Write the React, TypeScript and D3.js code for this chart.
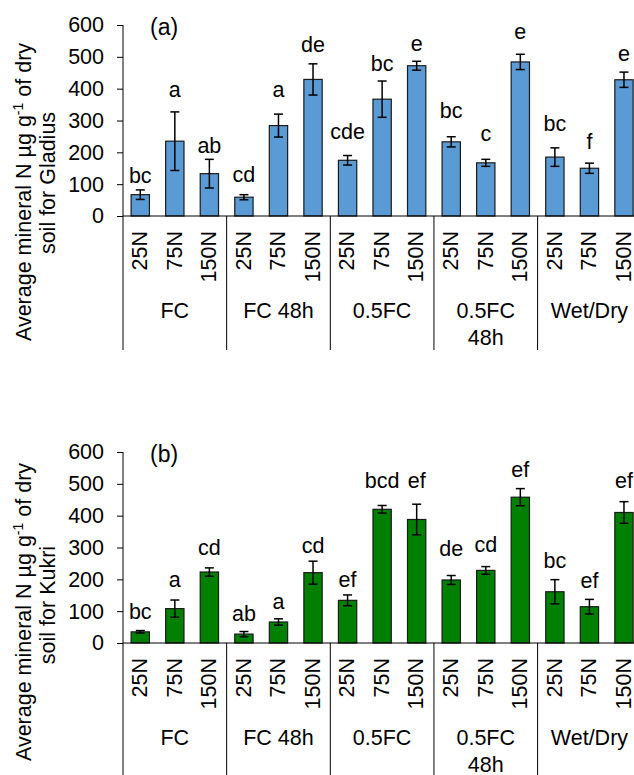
import React, { useEffect, useRef } from "react";
import * as d3 from "d3";

// ---------- data ----------
const rates = ["25N", "75N", "150N"];
const groupLabels = [["FC"], ["FC 48h"], ["0.5FC"], ["0.5FC", "48h"], ["Wet/Dry"]];
const yTicks = [0, 100, 200, 300, 400, 500, 600];

const gladiusMean = [67, 235, 133, 59, 284, 429, 175, 367, 472, 233, 167, 484, 185, 150, 428];
const gladiusErr = [15, 92, 45, 8, 36, 49, 15, 57, 14, 16, 11, 24, 29, 16, 24];
const gladiusLetters = ["bc", "a", "ab", "cd", "a", "de", "cde", "bc", "e", "bc", "c", "e", "bc", "f", "e"];
const gladiusLetterY = [104, 374, 199, 106, 374, 516, 241, 456, 518, 307, 237, 555, 268, 210, 487];

const kukriMean = [35, 108, 223, 28, 66, 221, 134, 420, 388, 198, 228, 458, 161, 114, 410];
const kukriErr = [4, 27, 13, 8, 10, 36, 17, 12, 48, 14, 12, 27, 38, 23, 34];
const kukriLetters = ["bc", "a", "cd", "ab", "a", "cd", "ef", "bcd", "ef", "de", "cd", "ef", "bc", "ef", "ef"];
const kukriLetterY = [75, 177, 277, 70, 107, 282, 177, 487, 487, 272, 286, 523, 237, 172, 487];

// ---------- layout ----------
const W = 634;
const H = 775;
const FONT = "'Liberation Sans', Arial, sans-serif";
const FS = 21.5;
const AXIS_X = 123;
const STEP = 34.55;

const panels = [
  { tag: "(a)", cultivar: "Gladius", y0: 216, mean: gladiusMean, err: gladiusErr, letters: gladiusLetters, letterY: gladiusLetterY, color: "#5B9BD5", titleY: [192, 183] },
  { tag: "(b)", cultivar: "Kukri", y0: 643, mean: kukriMean, err: kukriErr, letters: kukriLetters, letterY: kukriLetterY, color: "#008000", titleY: [612, 605] },
];

export default function App() {
  const ref = useRef<SVGSVGElement | null>(null);

  useEffect(() => {
    const svg = d3.select(ref.current);
    svg.selectAll("*").remove();

    const cats: string[] = [];
    groupLabels.forEach((_, g) => rates.forEach((r) => cats.push(`${g}-${r}`)));

    const x = d3
      .scaleBand<string>()
      .domain(cats)
      .range([AXIS_X, AXIS_X + STEP * cats.length])
      .paddingInner(0.47)
      .paddingOuter(0.235);

    panels.forEach((p) => {
      const y = d3.scaleLinear().domain([0, 600]).range([p.y0, p.y0 - 191]);
      const g = svg.append("g").attr("font-family", FONT);

      // bars
      g.selectAll("rect.bar")
        .data(p.mean)
        .join("rect")
        .attr("x", (_, i) => x(cats[i])!)
        .attr("width", x.bandwidth())
        .attr("y", (d) => y(d))
        .attr("height", (d) => p.y0 - y(d))
        .attr("fill", p.color)
        .attr("stroke", "#1a1a1a")
        .attr("stroke-width", 1.2);

      // error bars
      const eb = g.selectAll("g.eb").data(p.mean).join("g");
      eb.append("line")
        .attr("x1", (_, i) => x(cats[i])! + x.bandwidth() / 2)
        .attr("x2", (_, i) => x(cats[i])! + x.bandwidth() / 2)
        .attr("y1", (d, i) => y(d + p.err[i]))
        .attr("y2", (d, i) => y(d - p.err[i]))
        .attr("stroke", "#000")
        .attr("stroke-width", 1.5);
      [1, -1].forEach((s) => {
        eb.append("line")
          .attr("x1", (_, i) => x(cats[i])! + x.bandwidth() / 2 - 4.5)
          .attr("x2", (_, i) => x(cats[i])! + x.bandwidth() / 2 + 4.5)
          .attr("y1", (d, i) => y(d + s * p.err[i]))
          .attr("y2", (d, i) => y(d + s * p.err[i]))
          .attr("stroke", "#000")
          .attr("stroke-width", 1.5);
      });

      // letters
      g.selectAll("text.letter")
        .data(p.letters)
        .join("text")
        .attr("x", (_, i) => x(cats[i])! + x.bandwidth() / 2)
        .attr("y", (_, i) => y(p.letterY[i]))
        .attr("text-anchor", "middle")
        .attr("font-size", FS)
        .attr("fill", "#000")
        .text((d) => d);

      // y axis ticks
      const axis = d3.axisLeft(y).tickValues(yTicks).tickSize(6).tickPadding(13);
      const ag = g.append("g").attr("transform", `translate(${AXIS_X},0)`).call(axis);
      ag.select(".domain").remove();
      ag.selectAll(".tick line").attr("stroke", "#000").attr("stroke-width", 1);
      ag.selectAll(".tick text")
        .attr("font-family", FONT)
        .attr("font-size", FS)
        .attr("fill", "#000");

      // axis line (extends down through category area)
      g.append("line")
        .attr("x1", AXIS_X).attr("x2", AXIS_X)
        .attr("y1", y(600)).attr("y2", p.y0 + 134)
        .attr("stroke", "#000").attr("stroke-width", 1);
      // baseline
      g.append("line")
        .attr("x1", AXIS_X).attr("x2", AXIS_X + STEP * cats.length)
        .attr("y1", p.y0).attr("y2", p.y0)
        .attr("stroke", "#000").attr("stroke-width", 1);

      // group separators
      groupLabels.forEach((_, gi) => {
        if (gi === 0) return;
        const sx = AXIS_X + gi * 3 * STEP;
        g.append("line")
          .attr("x1", sx).attr("x2", sx)
          .attr("y1", p.y0).attr("y2", p.y0 + 134)
          .attr("stroke", "#000").attr("stroke-width", 1);
      });

      // category labels (rotated)
      g.selectAll("text.cat")
        .data(cats)
        .join("text")
        .attr("transform", (d) => `translate(${x(d)! + x.bandwidth() / 2 - 1},${p.y0 + 15}) rotate(-90)`)
        .attr("text-anchor", "end")
        .attr("dy", "0.36em")
        .attr("font-size", FS)
        .attr("fill", "#000")
        .text((d) => d.split("-")[1]);

      // group labels
      groupLabels.forEach((lines, gi) => {
        const cx = AXIS_X + (gi * 3 + 1.5) * STEP;
        lines.forEach((ln, li) => {
          g.append("text")
            .attr("x", cx)
            .attr("y", p.y0 + 102 + li * 27)
            .attr("text-anchor", "middle")
            .attr("font-size", FS)
            .attr("fill", "#000")
            .text(ln);
        });
      });

      // panel tag
      g.append("text")
        .attr("x", 150)
        .attr("y", p.y0 - 181)
        .attr("font-size", 23)
        .attr("fill", "#000")
        .text(p.tag);

      // y title
      const t1 = g.append("text")
        .attr("transform", `translate(31,${p.titleY[0]}) rotate(-90)`)
        .attr("text-anchor", "middle")
        .attr("font-size", FS)
        .attr("fill", "#000");
      t1.append("tspan").text("Average mineral N µg g");
      t1.append("tspan").attr("font-size", 14).attr("dy", -8).text("-1");
      t1.append("tspan").attr("dy", 8).text(" of dry");

      g.append("text")
        .attr("transform", `translate(55,${p.titleY[1]}) rotate(-90)`)
        .attr("text-anchor", "middle")
        .attr("font-size", FS)
        .attr("fill", "#000")
        .text(`soil for ${p.cultivar}`);
    });
  }, []);

  return (
    <svg
      ref={ref}
      width={W}
      height={H}
      style={{ position: "absolute", left: 0, top: 0, display: "block", background: "#fff", overflow: "hidden" }}
    />
  );
}
